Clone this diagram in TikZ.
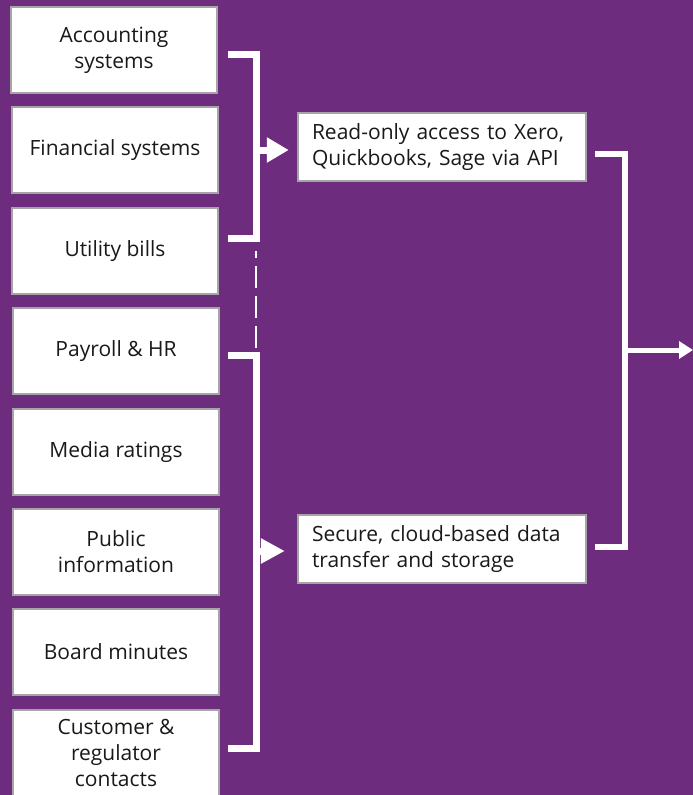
\documentclass[tikz,border=0pt]{standalone}
\usepackage{fontspec}
\setmainfont{Open Sans}
\usetikzlibrary{arrows.meta}
\definecolor{bgpurple}{RGB}{110,44,127}
\definecolor{boxgray}{RGB}{165,165,165}
\definecolor{ink}{RGB}{25,25,25}
\begin{document}
\begin{tikzpicture}[x=1pt,y=-1pt,
  src/.style={shape=rectangle,draw=boxgray,line width=2.5pt,fill=white,
    minimum width=206pt,minimum height=86pt,inner sep=0pt,align=center,
    text=ink,font=\fontsize{21}{26}\selectfont},
  tool/.style={shape=rectangle,draw=boxgray,line width=2.5pt,fill=white,
    minimum width=288pt,minimum height=68pt,inner sep=0pt,text width=260pt,
    align=left,text=ink,font=\fontsize{21}{26}\selectfont},
  brace/.style={draw=white,line width=7pt,line cap=butt,line join=miter}]
\fill[bgpurple] (0,0) rectangle (693,795);
\useasboundingbox (0,0) rectangle (693,795);
% data sources
\node (acc) at (114,50)  [src] {Accounting\\systems};
\node (fin) at (115,150) [src] {Financial systems};
\node (utl) at (115,251) [src] {Utility bills};
\node (pay) at (116,351) [src] {Payroll \& HR};
\node (med) at (116,452) [src] {Media ratings};
\node (pub) at (116,552) [src] {Public\\information};
\node (brd) at (116,652) [src] {Board minutes};
\node (cus) at (116,753) [src] {Customer \&\\regulator\\contacts};
% collection
\node (api) at (442,147) [tool] {Read-only access to Xero,\\Quickbooks, Sage via API};
\node (cld) at (442,549) [tool] {Secure, cloud-based data\\transfer and storage};
% bracket corners
\coordinate (a1) at (228,54);
\coordinate (a2) at (256,54);
\coordinate (a3) at (256,238);
\coordinate (a4) at (228,238);
\coordinate (a5) at (256,150);
\coordinate (b1) at (228,355);
\coordinate (b2) at (256,355);
\coordinate (b3) at (256,748);
\coordinate (b4) at (228,748);
\coordinate (b5) at (256,551);
\coordinate (c1) at (595,154);
\coordinate (c2) at (625,154);
\coordinate (c3) at (625,547);
\coordinate (c4) at (595,547);
\coordinate (c5) at (625,350);
\coordinate (out) at (693,350);
\draw [brace] (a1) -- (a2) -- (a3) -- (a4);
\draw [brace] (b1) -- (b2) -- (b3) -- (b4);
\draw [brace,line width=6pt] (c1) -- (c2) -- (c3) -- (c4);
\draw [white,line width=2.5pt,dash pattern=on 22pt off 8pt,dash phase=15pt]
  (a3) ++(0,13) -- ([yshift=-8pt]b2);
\draw [white,line width=7pt,-{Triangle[length=22pt,width=24pt]},shorten >=8pt]
  (a5) -- (a5 -| api.west);
\draw [white,line width=7pt,-{Triangle[length=24pt,width=24pt]},shorten >=12pt]
  (b5) -- (b5 -| cld.west);
\draw [white,line width=5pt,-{Triangle[length=14pt,width=17pt]}] (c5) -- (out);
\end{tikzpicture}
\end{document}
